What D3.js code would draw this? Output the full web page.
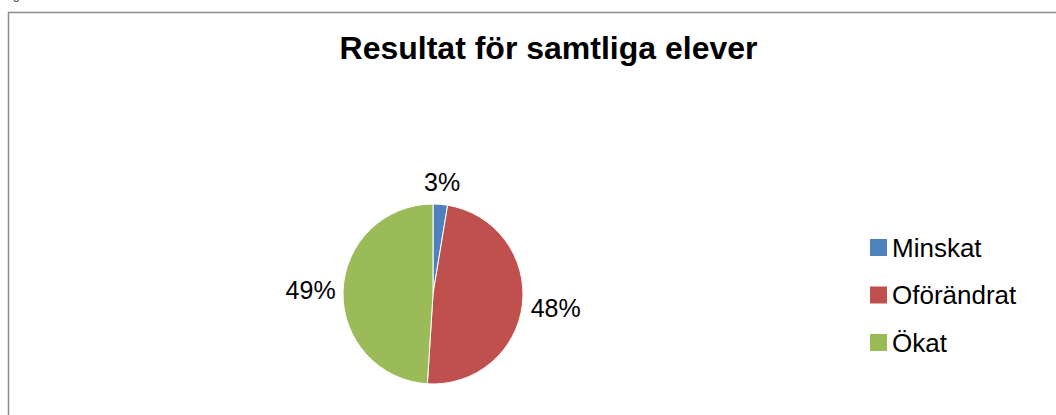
<!DOCTYPE html>
<html>
<head>
<meta charset="utf-8">
<script src="https://cdn.jsdelivr.net/npm/d3@7"></script>
<style>
  body { margin: 0; background: #fff; }
  svg { display: block; font-family: 'Liberation Sans', Arial, sans-serif; }
</style>
</head>
<body>
<svg id="chart"></svg>
<script>
const categories = ['Minskat', 'Oförändrat', 'Ökat'];
const values = [2.6, 48.4, 49.0];
const labels = ['3%', '48%', '49%'];
const colors = ['#4F81BD', '#C0504D', '#9BBB59'];

const width = 1056;
const height = 415;
const radius = 90;
const cx = 433;
const cy = 294;

const svg = d3.select('#chart')
  .attr('width', width)
  .attr('height', height);

// frame of the chart area (cut off at right and bottom)
svg.append('rect')
  .attr('x', 8.5)
  .attr('y', 12.5)
  .attr('width', 1200)
  .attr('height', 600)
  .attr('fill', '#fff')
  .attr('stroke', '#8c8c8c')
  .attr('stroke-width', 1.5);

// leftover of caption text above the frame
svg.append('text')
  .attr('x', 13)
  .attr('y', -1)
  .attr('font-size', 12)
  .attr('fill', '#333')
  .text('g');

svg.append('text')
  .attr('x', 548.5)
  .attr('y', 59)
  .attr('text-anchor', 'middle')
  .attr('font-size', 32)
  .attr('font-weight', 'bold')
  .attr('fill', '#000')
  .text('Resultat för samtliga elever');

const color = d3.scaleOrdinal().domain(categories).range(colors);

const pie = d3.pie().sort(null).value(d => d.value);
const data = pie(categories.map((c, i) => ({ name: c, value: values[i], label: labels[i] })));

const arc = d3.arc().innerRadius(0).outerRadius(radius);

const g = svg.append('g')
  .attr('transform', `translate(${cx}, ${cy})`);

g.selectAll('path')
  .data(data)
  .enter().append('path')
  .attr('d', arc)
  .attr('fill', d => color(d.data.name))
  .attr('stroke', '#fff')
  .attr('stroke-width', 1);

// data labels outside the slices
const lbl = g.selectAll('.lbl')
  .data(data)
  .enter().append('text')
  .attr('class', 'lbl')
  .attr('font-size', 25)
  .attr('fill', '#000')
  .attr('text-anchor', 'middle')
  .attr('dominant-baseline', 'central')
  .text(d => d.data.label);

lbl.each(function (d) {
  const box = this.getBBox();
  const a = (d.startAngle + d.endAngle) / 2;
  const dist = radius + 7 + Math.abs(Math.sin(a)) * box.width / 2 + Math.abs(Math.cos(a)) * box.height / 2;
  d3.select(this)
    .attr('x', Math.sin(a) * dist)
    .attr('y', -Math.cos(a) * dist);
});

// legend
const legend = svg.append('g')
  .attr('transform', 'translate(870, 247.5)')
  .selectAll('g')
  .data(categories)
  .enter().append('g')
  .attr('transform', (d, i) => `translate(0, ${i * 47.5})`);

legend.append('rect')
  .attr('x', 0)
  .attr('y', -8.5)
  .attr('width', 17)
  .attr('height', 17)
  .attr('fill', d => color(d));

legend.append('text')
  .attr('x', 22)
  .attr('y', 0)
  .attr('dy', '0.35em')
  .attr('font-size', 26)
  .attr('fill', '#000')
  .text(d => d);
</script>
</body>
</html>
